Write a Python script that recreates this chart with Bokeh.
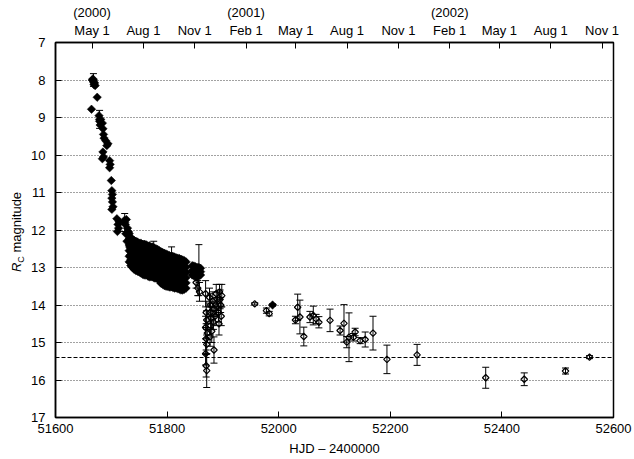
from math import pi
from bokeh.plotting import figure
from bokeh.layouts import row
from bokeh.models import (Range1d, LinearAxis, FixedTicker, Span, Whisker, TeeHead,
                          ColumnDataSource, Div)
from bokeh.embed import file_html
from bokeh.resources import INLINE

FONT = "Liberation Sans"

# ---- data (HJD - 2400000, Rc magnitude) ----
early_hjd = [51664.5, 51666, 51667, 51668, 51669, 51670, 51671, 51674.7,
             51678, 51679, 51680, 51681, 51684, 51685, 51686, 51687, 51690, 51692, 51694,
             51685, 51686, 51684, 51697, 51698, 51697, 51700,
             51701, 51702, 51701, 51702, 51703, 51701,
             51710, 51712, 51713, 51711, 51714,
             51723, 51725, 51727, 51729, 51726, 51731, 51728, 51733, 51736]
early_mag = [8.78, 8.00, 7.97, 8.05, 8.12, 8.08, 8.15, 8.46,
             8.95, 9.10, 9.20, 9.05, 9.15, 9.30, 9.45, 9.55, 9.62, 9.75, 9.70,
             9.92, 10.05, 10.10, 10.15, 10.25, 10.34, 10.68,
             10.95, 11.05, 11.15, 11.25, 11.38, 11.45,
             11.70, 11.85, 11.95, 12.04, 11.78,
             11.75, 11.85, 11.72, 11.95, 12.10, 12.05, 12.30, 12.45, 12.60]

plat_nights = [51732, 51735, 51738, 51741, 51744, 51747, 51750, 51753, 51756, 51759,
               51762, 51765, 51768, 51771, 51774, 51777, 51780, 51783, 51786, 51789,
               51792, 51795, 51798, 51801, 51804, 51807, 51810, 51813, 51816, 51819,
               51822, 51825, 51828, 51831, 51834,
               51845, 51848, 51851, 51854, 51857, 51860]
plat_mags = [[12.10, 12.24, 12.40, 12.55, 12.70, 12.85],
             [12.20, 12.36, 12.50, 12.66, 12.80, 12.95],
             [12.25, 12.40, 12.56, 12.70, 12.86, 13.00],
             [12.28, 12.44, 12.58, 12.75, 12.90, 13.05],
             [12.30, 12.46, 12.62, 12.77, 12.93, 13.08],
             [12.32, 12.48, 12.64, 12.79, 12.95, 13.10],
             [12.35, 12.50, 12.66, 12.82, 12.97, 13.12],
             [12.35, 12.52, 12.68, 12.84, 13.00, 13.15],
             [12.38, 12.54, 12.70, 12.86, 13.02, 13.18],
             [12.38, 12.55, 12.72, 12.88, 13.04, 13.20],
             [12.40, 12.56, 12.72, 12.88, 13.04, 13.20],
             [12.42, 12.58, 12.74, 12.90, 13.06, 13.22],
             [12.42, 12.59, 12.76, 12.92, 13.08, 13.25],
             [12.45, 12.61, 12.77, 12.93, 13.09, 13.25],
             [12.45, 12.61, 12.77, 12.93, 13.09, 13.25],
             [12.48, 12.64, 12.80, 12.96, 13.12, 13.28],
             [12.50, 12.66, 12.82, 12.97, 13.13, 13.28],
             [12.52, 12.68, 12.84, 12.99, 13.15, 13.30],
             [12.55, 12.71, 12.87, 13.03, 13.19, 13.35],
             [12.58, 12.75, 12.92, 13.08, 13.25, 13.42],
             [12.60, 12.77, 12.94, 13.11, 13.28, 13.45],
             [12.62, 12.79, 12.96, 13.14, 13.31, 13.48],
             [12.64, 12.81, 12.98, 13.16, 13.33, 13.50],
             [12.66, 12.83, 13.00, 13.17, 13.34, 13.50],
             [12.68, 12.85, 13.02, 13.18, 13.35, 13.52],
             [12.70, 12.86, 13.03, 13.19, 13.36, 13.52],
             [12.70, 12.87, 13.04, 13.20, 13.37, 13.53],
             [12.72, 12.89, 13.05, 13.22, 13.38, 13.55],
             [12.74, 12.90, 13.06, 13.23, 13.39, 13.55],
             [12.75, 12.91, 13.07, 13.24, 13.40, 13.56],
             [12.76, 12.92, 13.09, 13.25, 13.42, 13.58],
             [12.78, 12.94, 13.11, 13.27, 13.44, 13.60],
             [12.80, 12.96, 13.12, 13.28, 13.44, 13.60],
             [12.82, 12.97, 13.12, 13.28, 13.43, 13.58],
             [12.85, 12.99, 13.13, 13.27, 13.41, 13.55],
             [12.95, 13.08, 13.20], [12.96, 13.09, 13.22], [12.98, 13.11, 13.24],
             [13.00, 13.12, 13.24], [13.00, 13.11, 13.22], [13.02, 13.11, 13.20]]

# filled points whose error bars show
fe_hjd = [51668, 51679, 51724, 51758, 51776, 51808, 51857, 51989]
fe_mag = [8.00, 9.05, 11.80, 12.55, 12.55, 12.80, 13.07, 14.00]
fe_err = [0.17, 0.24, 0.24, 0.25, 0.25, 0.35, 0.68, 0.03]

# open points with error bars
open_hjd = [51852, 51855, 51858, 51869, 51870, 51871, 51869, 51872, 51870, 51871,
            51869, 51870, 51871, 51876, 51878, 51877, 51879, 51878, 51880, 51877,
            51884, 51882, 51884, 51886, 51883, 51888, 51890, 51889, 51892, 51894,
            51895, 51896, 51897, 51893, 51898, 51957, 51978, 51983, 52030, 52034,
            52038, 52045, 52056, 52062, 52067, 52072, 52092, 52110, 52117, 52122,
            52126, 52134, 52137, 52146, 52155, 52169, 52194, 52248, 52371, 52440,
            52514, 52557]
open_mag = [13.40, 13.55, 13.65, 13.70, 14.20, 14.40, 14.60, 14.75, 14.90, 15.05,
            15.30, 15.62, 15.75, 13.80, 14.00, 14.20, 14.35, 14.55, 14.70, 14.85,
            15.20, 13.90, 14.10, 14.30, 14.45, 13.70, 13.85, 14.05, 14.20, 13.65,
            13.85, 14.00, 14.30, 14.50, 13.75, 13.97, 14.15, 14.23, 14.40, 14.06,
            14.32, 14.84, 14.32, 14.28, 14.37, 14.46, 14.41, 14.68, 14.49, 14.99,
            14.86, 14.86, 14.72, 14.95, 14.92, 14.75, 15.45, 15.33, 15.94, 15.98,
            15.76, 15.39]
open_err = [0.15, 0.20, 0.25, 0.35, 0.30, 0.25, 0.30, 0.25, 0.30, 0.25,
            0.30, 0.30, 0.45, 0.25, 0.30, 0.25, 0.30, 0.25, 0.30, 0.25,
            0.35, 0.25, 0.20, 0.25, 0.20, 0.25, 0.20, 0.25, 0.25, 0.20,
            0.25, 0.20, 0.25, 0.30, 0.30, 0.03, 0.07, 0.06, 0.10, 0.35,
            0.45, 0.25, 0.15, 0.25, 0.12, 0.15, 0.30, 0.12, 0.50, 0.15,
            0.65, 0.10, 0.10, 0.08, 0.20, 0.45, 0.38, 0.28, 0.28, 0.17,
            0.08, 0.04]

quiescence = 15.4

bottom_ticks = [51600, 51800, 52000, 52200, 52400, 52600]
left_ticks = [7, 8, 9, 10, 11, 12, 13, 14, 15, 16, 17]
month_ticks = [51665.5, 51757.5, 51849.5, 51941.5, 52030.5, 52122.5,
               52214.5, 52306.5, 52395.5, 52487.5, 52579.5]
month_labels = ["(2000)\nMay 1", "Aug 1", "Nov 1", "(2001)\nFeb 1", "May 1", "Aug 1",
                "Nov 1", "(2002)\nFeb 1", "May 1", "Aug 1", "Nov 1"]

# ---- figure (fixed canvas 606 x 459, beside a 28 px label column) ----
p = figure(width=606, height=459, title=None,
           x_range=Range1d(51600, 52600), y_range=Range1d(17, 7),
           output_backend="svg", toolbar_location=None,
           min_border_left=27, min_border_top=42, min_border_right=21,
           min_border_bottom=42)
p.background_fill_color = "white"
p.border_fill_color = "white"
p.outline_line_color = "black"
p.outline_line_width = 1.5

p.xgrid.visible = False
p.ygrid.ticker = FixedTicker(ticks=left_ticks)
p.ygrid.grid_line_color = "#444444"
p.ygrid.grid_line_dash = "1 2"
p.ygrid.grid_line_width = 1

def style_axis(ax, standoff):
    ax.axis_line_color = "black"
    ax.axis_line_width = 1.5
    ax.major_tick_in = 6
    ax.major_tick_out = 0
    ax.major_tick_line_color = "black"
    ax.major_tick_line_width = 1
    ax.minor_tick_line_color = None
    ax.major_label_text_font = FONT
    ax.major_label_text_font_size = "13px"
    ax.major_label_text_color = "black"
    ax.major_label_standoff = standoff

xa = p.xaxis[0]
xa.ticker = FixedTicker(ticks=bottom_ticks)
style_axis(xa, 6)
xa.axis_label = "HJD \u2013 2400000"
xa.axis_label_text_font = FONT
xa.axis_label_text_font_size = "13px"
xa.axis_label_text_font_style = "normal"
xa.axis_label_text_color = "black"
xa.axis_label_standoff = 5

ya = p.yaxis[0]
ya.ticker = FixedTicker(ticks=left_ticks)
style_axis(ya, 10)

top = LinearAxis(ticker=FixedTicker(ticks=month_ticks),
                 major_label_overrides={t: l for t, l in zip(month_ticks, month_labels)})
style_axis(top, 5)
p.add_layout(top, "above")

# quiescence level
p.add_layout(Span(location=quiescence, dimension="width", line_color="black",
                  line_dash="4 2", line_width=1))

# error bars
fe_src = ColumnDataSource(dict(x=fe_hjd,
                               lo=[m - e for m, e in zip(fe_mag, fe_err)],
                               up=[m + e for m, e in zip(fe_mag, fe_err)]))
op_src = ColumnDataSource(dict(x=open_hjd, y=open_mag,
                               lo=[m - e for m, e in zip(open_mag, open_err)],
                               up=[m + e for m, e in zip(open_mag, open_err)]))
for src in (fe_src, op_src):
    p.add_layout(Whisker(source=src, base="x", lower="lo", upper="up",
                         dimension="height", line_color="black", line_width=1,
                         upper_head=TeeHead(size=7, line_color="black", line_width=1),
                         lower_head=TeeHead(size=7, line_color="black", line_width=1)))

# points
plat_x = [n for n, ms in zip(plat_nights, plat_mags) for _ in ms]
plat_y = [m for ms in plat_mags for m in ms]
filled_x = early_hjd + plat_x + fe_hjd
filled_y = early_mag + plat_y + fe_mag
p.scatter(filled_x, filled_y, marker="square", angle=pi / 4, size=6,
          fill_color="black", line_color="black", line_width=0.5)
p.scatter(open_hjd, open_mag, marker="square", angle=pi / 4, size=4.6,
          fill_color=None, line_color="black", line_width=1.2)

# y-axis title: R_C magnitude (italic R, subscript C)
ylabel_html = (
    '<div style="position:relative;width:28px;height:459px;">'
    '<span style="position:absolute;left:19px;top:231.5px;'
    'transform:translate(-50%,-50%) rotate(180deg);writing-mode:vertical-rl;'
    'white-space:nowrap;font-family:\'Liberation Sans\';font-size:13px;'
    'color:black;line-height:15px;">'
    '<i>R</i><sub style="font-size:9px;">C</sub> magnitude</span></div>'
)
ylabel = Div(text=ylabel_html, width=28, height=459, margin=0)

layout = row(ylabel, p, spacing=0)

open("out.html", "w").write(file_html(layout, INLINE))
